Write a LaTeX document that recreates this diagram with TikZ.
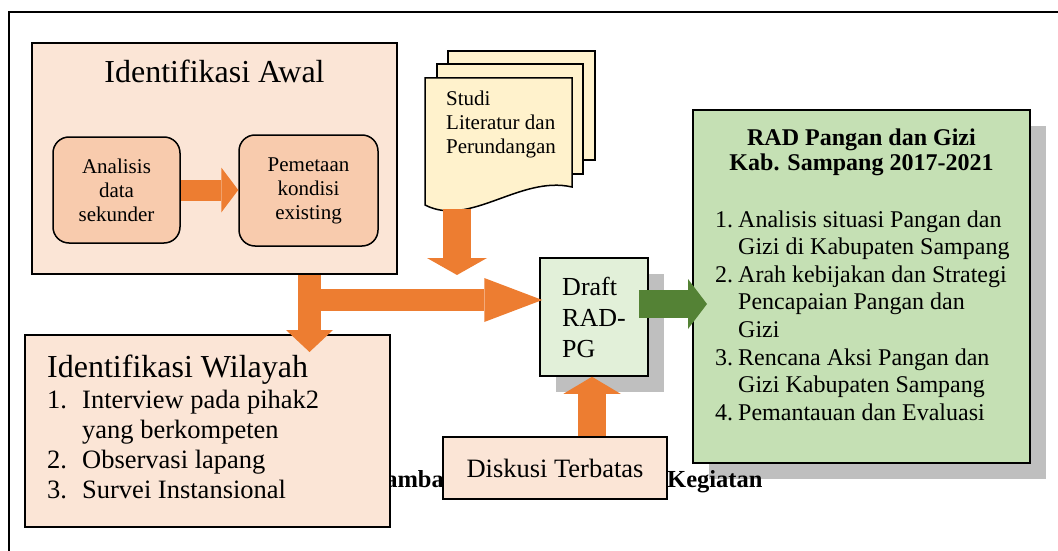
\documentclass[tikz,border=0pt]{standalone}
\usepackage{fontspec}
\setmainfont{Liberation Serif}
\usetikzlibrary{arrows.meta,positioning,shadows}
\definecolor{idpeach}{HTML}{FBE5D6}
\definecolor{idsalmon}{HTML}{F8CBAD}
\definecolor{idorange}{HTML}{ED7D31}
\definecolor{idcream}{HTML}{FFF2CC}
\definecolor{idmint}{HTML}{E2F0D9}
\definecolor{idgreen}{HTML}{C5E0B4}
\definecolor{iddarkgreen}{HTML}{548235}
\definecolor{idshadow}{HTML}{BFBFBF}
\tikzstyle{panel} = [rectangle, draw=black, line width=1.5pt, fill=idpeach, inner sep=0pt]
\tikzstyle{roundbox} = [rectangle, rounded corners=16pt, draw=black, line width=1.5pt, fill=idsalmon, align=center, font=\fontsize{21}{24}\selectfont]
\tikzstyle{paper} = [draw=black, line width=1.5pt, fill=idcream]
\tikzstyle{shadowed} = [drop shadow={shadow xshift=16pt, shadow yshift=-16pt, fill=idshadow, opacity=1}]
\tikzstyle{plaintext} = [inner sep=0pt, anchor=base west]
\tikzstyle{titletext} = [inner sep=0pt, font=\fontsize{32}{36}\selectfont]
\tikzstyle{listtext} = [plaintext, font=\fontsize{26.5}{30.3}\selectfont]
\tikzstyle{captext} = [plaintext, font=\fontsize{24.5}{28}\selectfont\bfseries]

\begin{document}
\begin{tikzpicture}[x=1pt, y=-1pt]
\useasboundingbox (0,0) rectangle (1058,551);
% Frame
\draw[line width=1.5pt] (1058,12) -- (9,12) -- (9,551);

% Identifikasi Awal
\node (awal) [panel, minimum width=365pt, minimum height=231pt] at (214.5,158.5) {};
\node (awaltitle) [titletext, anchor=base] at (214.5,83) {Identifikasi Awal};
\node (analisis) [roundbox, minimum width=127pt, minimum height=106pt] at (116.5,190) {Analisis\\data\\sekunder};
\node (pemetaan) [roundbox, minimum width=139pt, minimum height=111pt] at (308.5,190.5) {Pemetaan\\kondisi\\existing};
\draw[idorange, line width=21pt, -{Triangle[width=45pt,length=17pt,line width=0pt]}] (analisis.east) -- (analisis.east -| pemetaan.west);

% Studi literatur (tumpukan dokumen)
\draw[paper] (448,51) rectangle (595,160);
\draw[paper] (437,64) rectangle (583,174);
\draw[paper] (425,78) -- (572,78) -- (572,187) .. controls (520,175) and (470,228) .. (425,205) -- cycle;
\node (studi) [plaintext, font=\fontsize{21}{24.5}\selectfont] at (446,105) {\begin{tabular}[t]{@{}l@{}}Studi\\Literatur dan\\Perundangan\end{tabular}};
\coordinate (docbase) at (457,209);
\coordinate (doctip) at (457,275);

% Draft dan hasil
\node (draft) [panel, fill=idmint, shadowed, minimum width=108pt, minimum height=118pt, align=left, font=\fontsize{26}{31}\selectfont] at (594,317) {Draft\\RAD-\\PG};
\node (rad) [panel, fill=idgreen, shadowed, line width=2pt, minimum width=337pt, minimum height=353pt] at (861.5,286.5) {};
\node (radtitle) [inner sep=0pt, anchor=base, font=\fontsize{24}{25}\selectfont\bfseries] at (861.5,145) {\begin{tabular}[t]{@{}c@{}}RAD Pangan dan Gizi\\Kab. Sampang 2017-2021\end{tabular}};
\node (radlist) [plaintext, font=\fontsize{24}{27.6}\selectfont] at (715,227) {\begin{tabular}[t]{@{}p{23pt}@{}l@{}}
1. & Analisis situasi Pangan dan\\
   & Gizi di Kabupaten Sampang\\
2. & Arah kebijakan dan Strategi\\
   & Pencapaian Pangan dan\\
   & Gizi\\
3. & Rencana Aksi Pangan dan\\
   & Gizi Kabupaten Sampang\\
4. & Pemantauan dan Evaluasi
\end{tabular}};

% Caption (partly hidden)
\node (capleft) [captext] at (366,487) {Gambar};
\node (capright) [captext] at (667,487) {Kegiatan};

% Identifikasi Wilayah
\node (wilayah) [panel, minimum width=365pt, minimum height=192pt] at (207.5,431) {};
\node (wiltitle) [titletext, anchor=base west] at (47,377) {Identifikasi Wilayah};
\node (willist) [listtext] at (47,408) {\begin{tabular}[t]{@{}p{35pt}@{}l@{}}
1. & Interview pada pihak2\\
   & yang berkompeten\\
2. & Observasi lapang\\
3. & Survei Instansional
\end{tabular}};

\node (diskusi) [panel, minimum width=224pt, minimum height=62pt, font=\fontsize{26.5}{30}\selectfont] at (555,468) {Diskusi Terbatas};

% Arrows
\coordinate (split) at (309.5,300);
\coordinate (wiltip) at (309.5,352);
\coordinate (radtip) at (707,304);
\draw[idorange, line width=28pt, -{Triangle[width=60pt,length=17pt,line width=0pt]}] (docbase) -- (doctip);
\draw[idorange, line width=23pt, -{Triangle[width=47pt,length=22pt,line width=0pt]}] (awal.south -| split) -- (wiltip);
\draw[idorange, line width=22pt, -{Triangle[width=44pt,length=58pt,line width=0pt]}] (split) -- ([xshift=3pt]split -| draft.west);
\draw[iddarkgreen, line width=28pt, -{Triangle[width=50pt,length=19pt,line width=0pt]}] ([xshift=-10pt]draft.east |- radtip) -- (radtip);
\draw[idorange, line width=28pt, -{Triangle[width=57pt,length=17pt,line width=0pt]}] ([xshift=37pt]diskusi.north) -- ([xshift=37pt]diskusi.north |- draft.south);
\end{tikzpicture}
\end{document}
